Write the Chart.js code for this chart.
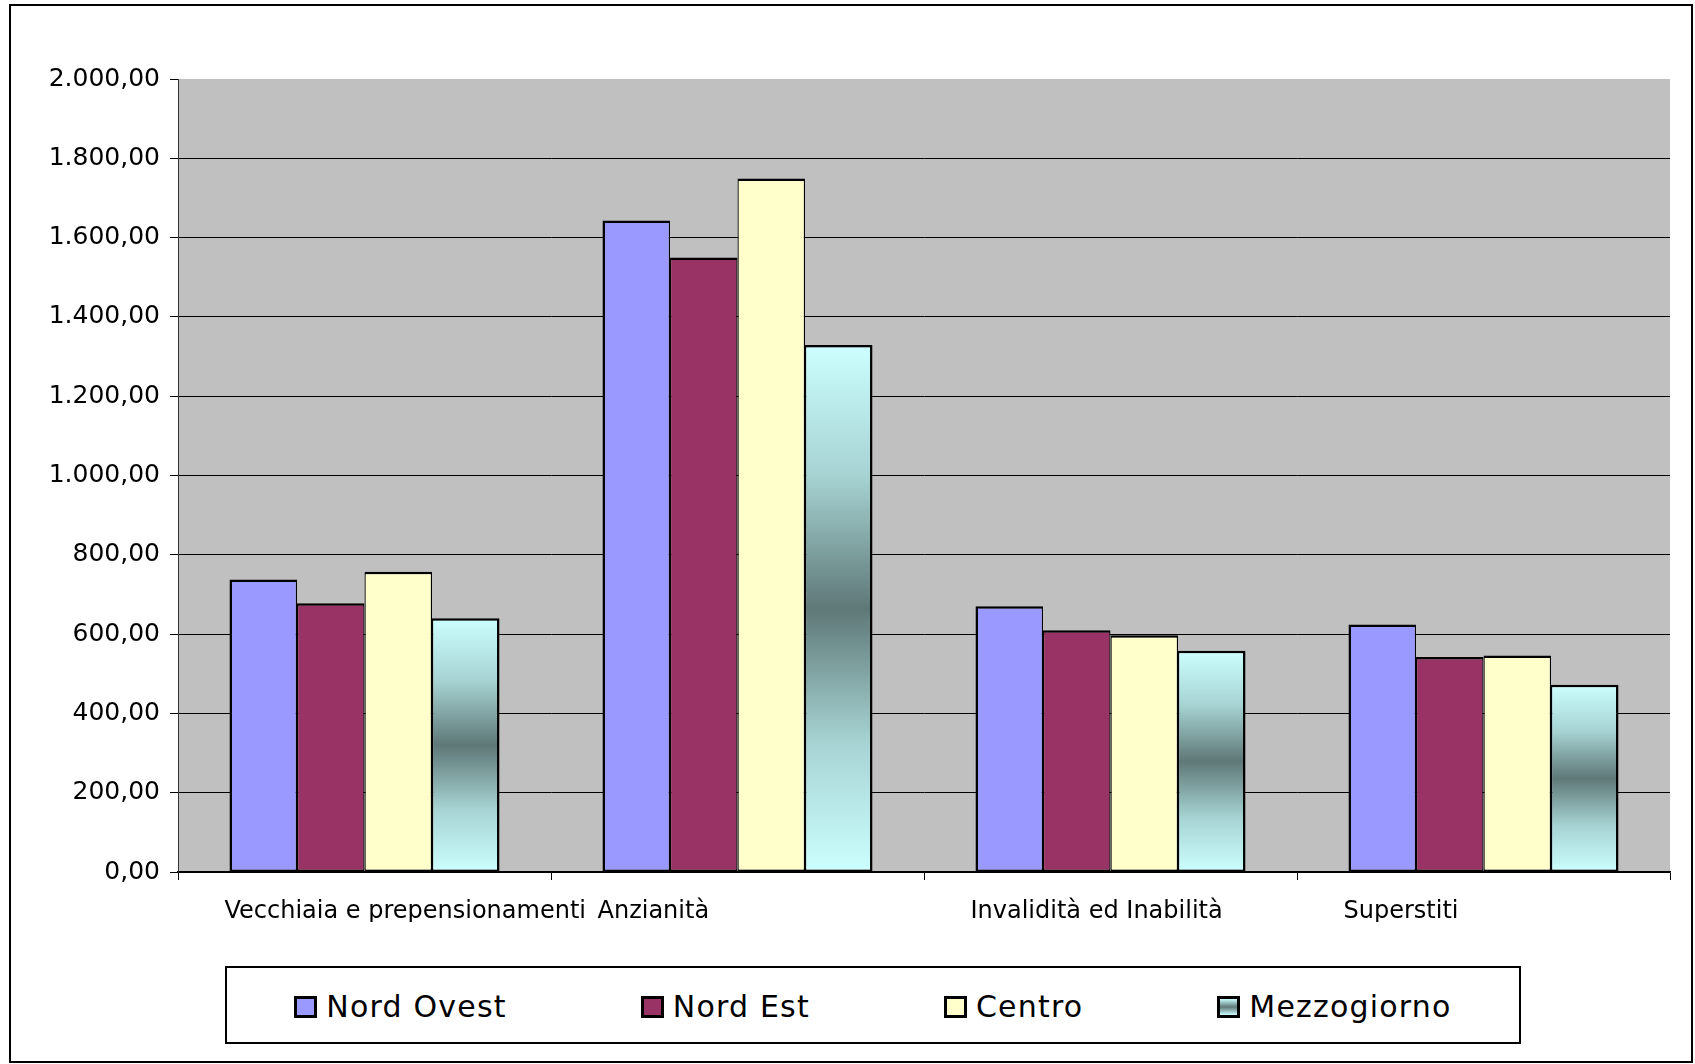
<!DOCTYPE html>
<html>
<head>
<meta charset="utf-8">
<script src="https://cdn.jsdelivr.net/npm/chart.js@4/dist/chart.umd.min.js"></script>
<style>
    body { margin: 0; background: #fff; }
    #frame {
        position: absolute; left: 9px; top: 4px; width: 1684px; height: 1059px;
        box-sizing: border-box; border: 2px solid #000; pointer-events: none;
    }
    #chart { position: absolute; left: 0; top: 0; }
    #legend {
        position: absolute; left: 225px; top: 966px; width: 1296px; height: 78px;
        box-sizing: border-box; border: 2px solid #000; background: #fff;
        display: flex; align-items: center; justify-content: center; gap: 134px;
        font-family: 'DejaVu Sans', sans-serif; font-size: 30px; color: #000;
        letter-spacing: 1.2px; padding-top: 3px;
    }
    #legend .item { display: flex; align-items: center; }
    #legend .swatch {
        width: 23px; height: 22px; box-sizing: border-box;
        border: 3px solid #000; margin-right: 9px;
    }
</style>
</head>
<body>
<canvas id="chart" width="1695" height="940"></canvas>
<div id="legend"></div>
<div id="frame"></div>
<script>
// Dati
const categories = ['Vecchiaia e prepensionamenti', 'Anzianità', 'Invalidità ed Inabilità', 'Superstiti'];
const seriesNames = ['Nord Ovest', 'Nord Est', 'Centro', 'Mezzogiorno'];
const nordOvest = [738, 1643, 670, 624];
const nordEst = [678, 1550, 610, 542];
const centro = [757, 1749, 597, 546];
const mezzogiorno = [640, 1329, 558, 472];
const yMin = 0;
const yMax = 2000;
const yStep = 200;

const FONT = 'DejaVu Sans';

// numero in formato italiano: 2.000,00
function formatIt(value) {
    const parts = Number(value).toFixed(2).split('.');
    parts[0] = parts[0].replace(/\B(?=(\d{3})+(?!\d))/g, '.');
    return parts[0] + ',' + parts[1];
}

// sfumatura del Mezzogiorno, calcolata sulla singola barra
function mezzogiornoFill(context) {
    const chart = context.chart;
    const y = chart.scales && chart.scales.y;
    if (!chart.chartArea || !y || !context.parsed) {
        return '#CCFFFF';
    }
    const top = y.getPixelForValue(context.parsed.y);
    const base = y.getPixelForValue(0);
    const g = chart.ctx.createLinearGradient(0, top, 0, base);
    g.addColorStop(0, '#CCFFFF');
    g.addColorStop(0.25, '#A6D2D2');
    g.addColorStop(0.5, '#5E7877');
    g.addColorStop(0.75, '#A6D2D2');
    g.addColorStop(1, '#CCFFFF');
    return g;
}

// bordo condiviso tra barre adiacenti, come in Excel
function barBorder(i, n) {
    return {
        top: 2.5,
        bottom: 2,
        left: i === 0 ? 2.5 : 1.25,
        right: i === n - 1 ? 2.5 : 1.25
    };
}

const seriesValues = [nordOvest, nordEst, centro, mezzogiorno];
const seriesColors = ['#9999FF', '#993366', '#FFFFCC', mezzogiornoFill];
const swatchCss = ['#9999FF', '#993366', '#FFFFCC',
    'linear-gradient(#CCFFFF, #5E7877 50%, #CCFFFF)'];

const datasets = seriesNames.map(function (name, i) {
    return {
        label: name,
        data: seriesValues[i],
        backgroundColor: seriesColors[i],
        borderColor: '#000',
        borderWidth: barBorder(i, seriesNames.length),
        borderSkipped: false,
        barPercentage: 1,
        categoryPercentage: 0.724
    };
});

// sfondo grigio dell'area del grafico
const plotBackground = {
    id: 'plotBackground',
    beforeDraw(chart) {
        const a = chart.chartArea;
        const ctx = chart.ctx;
        ctx.save();
        ctx.fillStyle = '#C0C0C0';
        ctx.fillRect(a.left, a.top, a.right - a.left, a.bottom - a.top);
        ctx.restore();
    }
};

const ctx = document.getElementById('chart').getContext('2d');
const chart = new Chart(ctx, {
    type: 'bar',
    data: { labels: categories, datasets: datasets },
    options: {
        responsive: false,
        animation: false,
        devicePixelRatio: 1,
        layout: { padding: { left: 48, right: 25, top: 79, bottom: 18 } },
        plugins: {
            legend: { display: false },
            tooltip: { enabled: false }
        },
        scales: {
            x: {
                afterFit(scale) { scale.height = 50; },
                grid: {
                    offset: true,
                    drawOnChartArea: false,
                    tickLength: 8,
                    color: '#000',
                    tickColor: '#000'
                },
                border: { color: '#000', width: 1.5 },
                ticks: {
                    autoSkip: false,
                    maxRotation: 0,
                    minRotation: 0,
                    align: 'start',
                    labelOffset: -140,
                    padding: 17,
                    color: '#000',
                    font: { family: FONT, size: 24 }
                }
            },
            y: {
                min: yMin,
                max: yMax,
                afterFit(scale) { scale.width = 130; },
                grid: {
                    color: function (c) {
                        return c.tick && c.tick.value === yMax ? 'rgba(0,0,0,0)' : '#000';
                    },
                    lineWidth: 1,
                    tickLength: 8,
                    tickColor: '#000'
                },
                border: { color: '#333', width: 1 },
                ticks: {
                    stepSize: yStep,
                    padding: 10,
                    color: '#000',
                    font: { family: FONT, size: 25 },
                    callback: function (value) { return formatIt(value); }
                }
            }
        }
    },
    plugins: [plotBackground]
});

// legenda HTML costruita dai dataset del grafico
const legendEl = document.getElementById('legend');
chart.data.datasets.forEach(function (ds, i) {
    const item = document.createElement('div');
    item.className = 'item';
    const sw = document.createElement('span');
    sw.className = 'swatch';
    sw.style.background = swatchCss[i];
    const txt = document.createElement('span');
    txt.textContent = ds.label;
    item.appendChild(sw);
    item.appendChild(txt);
    legendEl.appendChild(item);
});
</script>
</body>
</html>
